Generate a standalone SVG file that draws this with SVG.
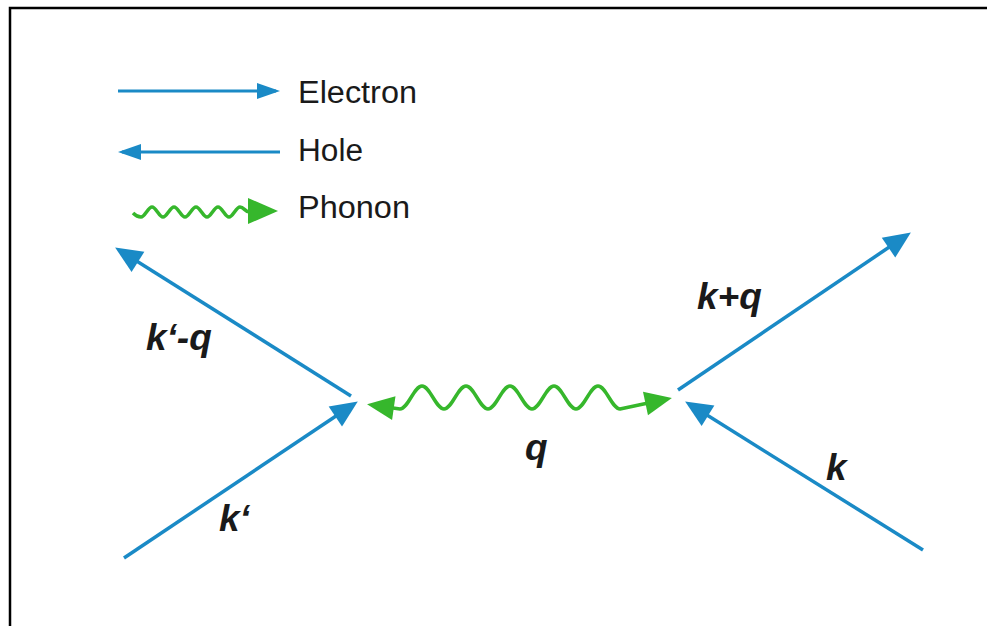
<svg xmlns="http://www.w3.org/2000/svg" width="987" height="626" viewBox="0 0 987 626">
  <style>
    .frame { fill: none; stroke: #000; stroke-width: 2.5; }
    .fermion { fill: none; stroke: #1a8ac6; stroke-width: 3.5; }
    .legend-line { fill: none; stroke: #1a8ac6; stroke-width: 3; }
    .boson { fill: none; stroke: #36b72c; stroke-width: 3.5; stroke-linejoin: round; }
    .boson-head { fill: #36b72c; }
    .legend-text { font-family: "Liberation Sans", Arial, Helvetica, sans-serif; font-size: 31px; fill: #1a1a1a; }
    .label { font-family: "Liberation Sans", Arial, Helvetica, sans-serif; font-size: 37px; font-weight: bold; font-style: italic; fill: #1a1a1a; }
  </style>
  <defs>
    <marker id="blueHead" markerUnits="userSpaceOnUse" markerWidth="28" markerHeight="24" refX="21" refY="12" orient="auto" overflow="visible">
      <path d="M0,0 L27,12 L0,24 z" fill="#1a8ac6"/>
    </marker>
    <marker id="blueHeadSmall" markerUnits="userSpaceOnUse" markerWidth="24" markerHeight="16" refX="19" refY="8" orient="auto" overflow="visible">
      <path d="M0,0 L23,8 L0,16 z" fill="#1a8ac6"/>
    </marker>
    <marker id="greenHead" markerUnits="userSpaceOnUse" markerWidth="28" markerHeight="24" refX="22" refY="12" orient="auto-start-reverse" overflow="visible">
      <path d="M0,0 L27,12 L0,24 z" fill="#36b72c"/>
    </marker>
  </defs>

  <rect width="987" height="626" fill="#fff"/>
  <path class="frame" d="M10,626 L10,8 L987,8"/>

  <g id="legend">
    <g id="legend-electron">
      <line class="legend-line" x1="118" y1="91" x2="276" y2="91" marker-end="url(#blueHeadSmall)"/>
      <text class="legend-text" x="298" y="103" textLength="119" lengthAdjust="spacingAndGlyphs">Electron</text>
    </g>
    <g id="legend-hole">
      <line class="legend-line" x1="280" y1="152" x2="122" y2="152" marker-end="url(#blueHeadSmall)"/>
      <text class="legend-text" x="298" y="161" textLength="65" lengthAdjust="spacingAndGlyphs">Hole</text>
    </g>
    <g id="legend-phonon">
      <path class="boson" d="M133,213 C136,216 138,217 141,217 C145,217 148,207 152,207 C156,207 159,217 163,217 C167,217 170,207 174,207 C178,207 181,217 185,217 C189,217 192,207 196,207 C200,207 203,217 207,217 C211,217 214,207 218,207 C222,207 225,217 229,217 C233,217 236,207 240,207 C244,207 246,213 250,212"/>
      <path class="boson-head" d="M248,198 L278,211 L248,224 z"/>
      <text class="legend-text" x="298" y="218" textLength="112" lengthAdjust="spacingAndGlyphs">Phonon</text>
    </g>
  </g>

  <g id="connectors">
    <line id="e-kprime-minus-q" class="fermion" x1="351" y1="396" x2="120.2" y2="250.7" marker-end="url(#blueHead)"/>
    <line id="e-kprime" class="fermion" x1="124" y1="558" x2="352.8" y2="404.8" marker-end="url(#blueHead)"/>
    <line id="e-k-plus-q" class="fermion" x1="678" y1="390" x2="905.9" y2="235.8" marker-end="url(#blueHead)"/>
    <line id="e-k" class="fermion" x1="923" y1="550" x2="690.2" y2="404.6" marker-end="url(#blueHead)"/>
    <path id="phonon-q" class="boson" marker-start="url(#greenHead)" marker-end="url(#greenHead)" d="M372,405 L400,409 C408,409 414,386 422,386 C430,386 436,409 444,409 C452,409 458,386 466,386 C474,386 480,409 488,409 C496,409 502,386 510,386 C518,386 524,409 532,409 C540,409 546,386 554,386 C562,386 568,409 576,409 C584,409 590,386 598,386 C606,386 612,409 620,409 L667,399"/>
  </g>

  <g id="labels">
    <g id="label-kprime-minus-q"><text class="label" x="146" y="350">k‘-q</text></g>
    <g id="label-kprime"><text class="label" x="219" y="531">k‘</text></g>
    <g id="label-k-plus-q"><text class="label" x="697" y="309">k+q</text></g>
    <g id="label-k"><text class="label" x="826" y="480">k</text></g>
    <g id="label-q"><text class="label" x="525" y="460">q</text></g>
  </g>
</svg>
